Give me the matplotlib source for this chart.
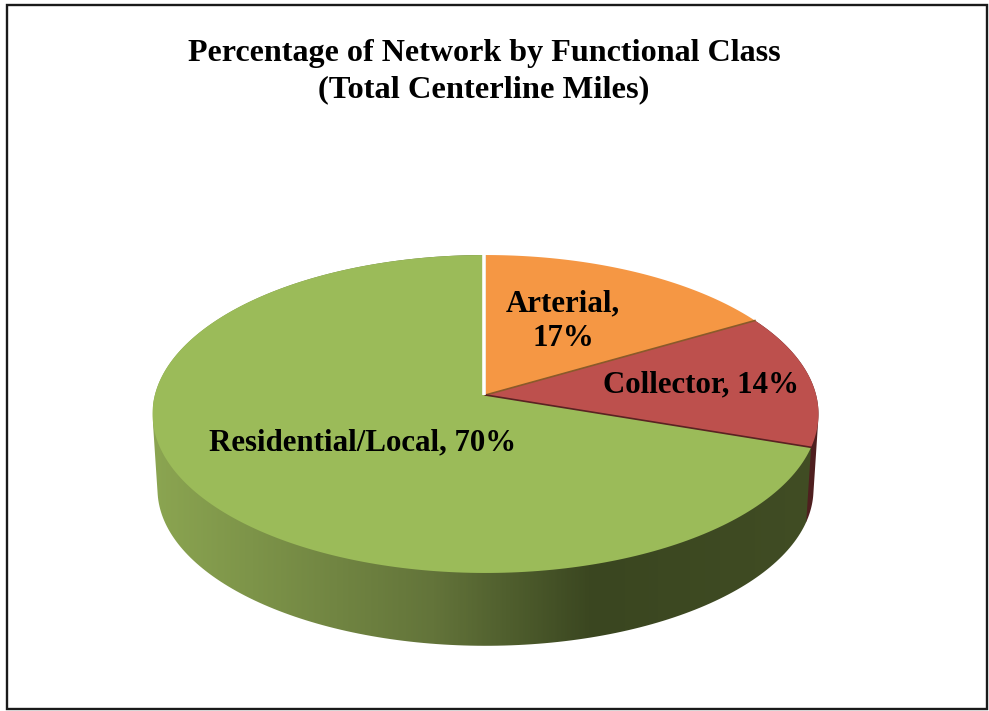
# Percentage of network by functional class, drawn as a tilted 3D style pie

import matplotlib
matplotlib.use('Agg')
import matplotlib.pyplot as plt
import numpy as np
from matplotlib.colors import LinearSegmentedColormap
from matplotlib.patches import Polygon, Rectangle

# Chart data
categories = ['Arterial', 'Collector', 'Residential/Local']
percentages = [16.6, 13.6, 69.8]
title_lines = ['Percentage of Network by Functional Class', '(Total Centerline Miles)']

top_colors = ['#F59744', '#BD504D', '#9BBB59']
side_colors = ['#8A3B38', '#4F1F1F', '#6F8A3F']
edge_colors = ['#8A5A2A', '#5A2222', '#9BBB59']

# Pie geometry in pixels
cx, cy = 485.5, 395
rx, ry = 330.6, 156.7
tilt = 0.1195
depth = 75.5
bottom_scale = 0.985


def project(theta, radius=1.0, bottom=False):
    # pie angle (degrees clockwise from 12 o'clock) to image pixels, with perspective
    t = np.radians(theta)
    u = radius * np.sin(t)
    v = radius * np.cos(t)
    w = 1 + tilt * v
    scale = bottom_scale if bottom else 1.0
    x = cx + scale * rx * u / w
    y = cy - scale * ry * v / w + (depth if bottom else 0)
    return x, y


def convex_hull(points):
    # monotone chain, so the side of the disc gets straight tangent edges
    pts = sorted(map(tuple, points))

    def half(seq):
        out = []
        for p in seq:
            while len(out) > 1 and ((out[-1][0] - out[-2][0]) * (p[1] - out[-2][1])
                                    - (out[-1][1] - out[-2][1]) * (p[0] - out[-2][0])) <= 0:
                out.pop()
            out.append(p)
        return out[:-1]

    return np.array(half(pts) + half(pts[::-1]))


fig = plt.figure(figsize=(9.89, 7.11), dpi=100)
ax = fig.add_axes([0, 0, 1, 1])
ax.set_xlim(0, 989)
ax.set_ylim(711, 0)
ax.axis('off')

# Outer frame
ax.add_patch(Rectangle((7, 5), 980, 704, fill=False, edgecolor='#1a1a1a', linewidth=1.7))

# Wedge angles from the values
total = sum(percentages)
ends = np.cumsum(percentages) / total * 360
starts = np.concatenate(([0], ends[:-1]))

# Sides first, the top faces cover whatever is hidden
side_cmap = LinearSegmentedColormap.from_list(
    'side', [(0, '#8BA551'), (0.42, '#63743A'), (0.66, '#3A4620'), (1, '#414D24')])
gradient = np.linspace(0, 1, 400).reshape(1, -1)

for i in [1, 2]:
    th = np.linspace(starts[i], ends[i], 240)
    xt, yt = project(th)
    xb, yb = project(th, bottom=True)
    pts = convex_hull(np.column_stack((np.concatenate((xt, xb)), np.concatenate((yt, yb)))))
    if categories[i] == 'Residential/Local':
        side = Polygon(pts, closed=True, facecolor='none', edgecolor='none')
        ax.add_patch(side)
        im = ax.imshow(gradient, cmap=side_cmap, extent=(153, 820, 700, 250),
                       aspect='auto', zorder=2)
        im.set_clip_path(side)
        ax.set_xlim(0, 989)
        ax.set_ylim(711, 0)
    else:
        ax.add_patch(Polygon(pts, closed=True, facecolor=side_colors[i],
                             edgecolor='none', zorder=1.5))

# Top faces, residential first so the others sit over it
for i in [2, 0, 1]:
    th = np.linspace(starts[i], ends[i], 240)
    x, y = project(th)
    pts = np.column_stack((np.concatenate(([cx], x)), np.concatenate(([cy], y))))
    ax.add_patch(Polygon(pts, closed=True, facecolor=top_colors[i],
                         edgecolor='none', zorder=3))

# Thin dark edges and white gap at the wedge boundaries
for i in [0, 1]:
    x, y = project(ends[i])
    ax.plot([cx, x], [cy, y], color=edge_colors[i], linewidth=1.2, zorder=4)
x, y = project(0)
ax.plot([cx - 1.5, x - 1.5], [cy, y - 2], color='white', linewidth=2.6, zorder=4,
        solid_capstyle='butt')

# Text
serif = 'Liberation Serif'
ax.text(484, 53, title_lines[0], ha='center', va='center', family=serif,
        fontweight='bold', fontsize=23.1, color='black', zorder=5)
ax.text(484, 90, title_lines[1], ha='center', va='center', family=serif,
        fontweight='bold', fontsize=23.4, color='black', zorder=5)

label_font = dict(ha='center', va='center', family=serif, fontweight='bold',
                  fontsize=22.2, color='black', zorder=5, linespacing=1.25)
ax.text(563, 321, f'{categories[0]},\n{round(percentages[0])}%', **label_font)
ax.text(701, 385, f'{categories[1]}, {round(percentages[1])}%', **label_font)
ax.text(363, 443, f'{categories[2]}, {round(percentages[2])}%', **label_font)

fig.savefig('out.png', dpi=100)
